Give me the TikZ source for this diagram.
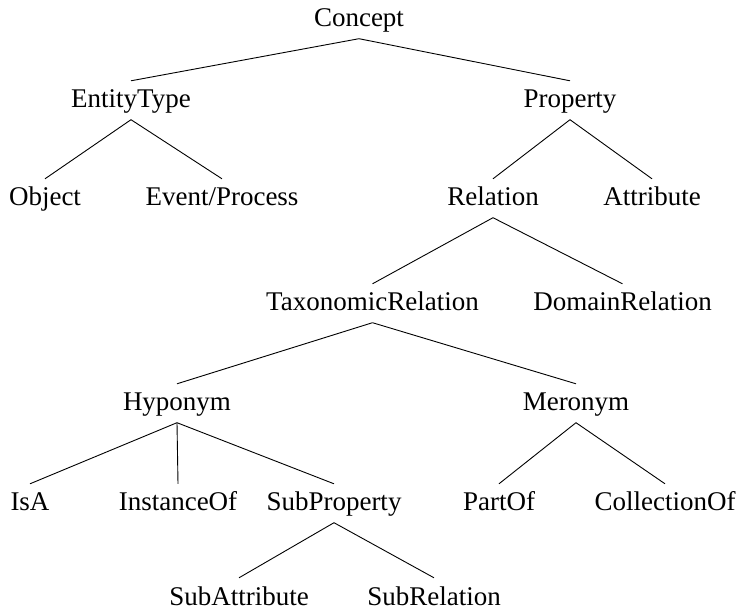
\documentclass[tikz,border=0pt]{standalone}
\usepackage{fontspec}
\setmainfont{Liberation Serif}
\begin{document}
\begin{tikzpicture}[x=1pt,y=1pt,
  term/.style={anchor=base,inner xsep=0pt,inner ysep=5.5pt,
    text height=21.5pt,text depth=6pt,font=\fontsize{27}{32}\selectfont},
  branch/.style={line width=0.9pt}]
\useasboundingbox (0,0) rectangle (737,614);
% rows are given by baseline height, measured from the top edge
\def\rowA{587}   % 614-27
\def\rowB{506}   % 614-108
\def\rowC{408}   % 614-206
\def\rowD{303}   % 614-311
\def\rowE{203}   % 614-411
\def\rowF{103}   % 614-511
\def\rowG{9}     % 614-605
\node[term] (concept)  at (359,\rowA) {Concept};
\node[term] (entity)   at (131,\rowB) {EntityType};
\node[term] (property) at (570,\rowB) {Property};
\node[term] (object)   at (45,\rowC)  {Object};
\node[term] (event)    at (222,\rowC) {Event/Process};
\node[term] (relation) at (493,\rowC) {Relation};
\node[term] (attr)     at (652,\rowC) {Attribute};
\node[term] (taxo)     at (372.5,\rowD) {TaxonomicRelation};
\node[term] (domain)   at (622.5,\rowD) {DomainRelation};
\node[term] (hypo)     at (177,\rowE) {Hyponym};
\node[term] (mero)     at (576,\rowE) {Meronym};
\node[term] (isa)      at (30,\rowF)  {IsA};
\node[term] (inst)     at (178,\rowF) {InstanceOf};
\node[term] (subprop)  at (334,\rowF) {SubProperty};
\node[term] (partof)   at (499,\rowF) {PartOf};
\node[term] (coll)     at (665,\rowF) {CollectionOf};
\node[term] (subattr)  at (239,\rowG) {SubAttribute};
\node[term] (subrel)   at (434,\rowG) {SubRelation};
\foreach \p/\c in {concept/entity,concept/property,
  entity/object,entity/event,property/relation,property/attr,
  relation/taxo,relation/domain,taxo/hypo,taxo/mero,
  hypo/isa,hypo/inst,hypo/subprop,mero/partof,mero/coll,
  subprop/subattr,subprop/subrel}
  \draw[branch] (\p.south) -- (\c.north);
\end{tikzpicture}
\end{document}
